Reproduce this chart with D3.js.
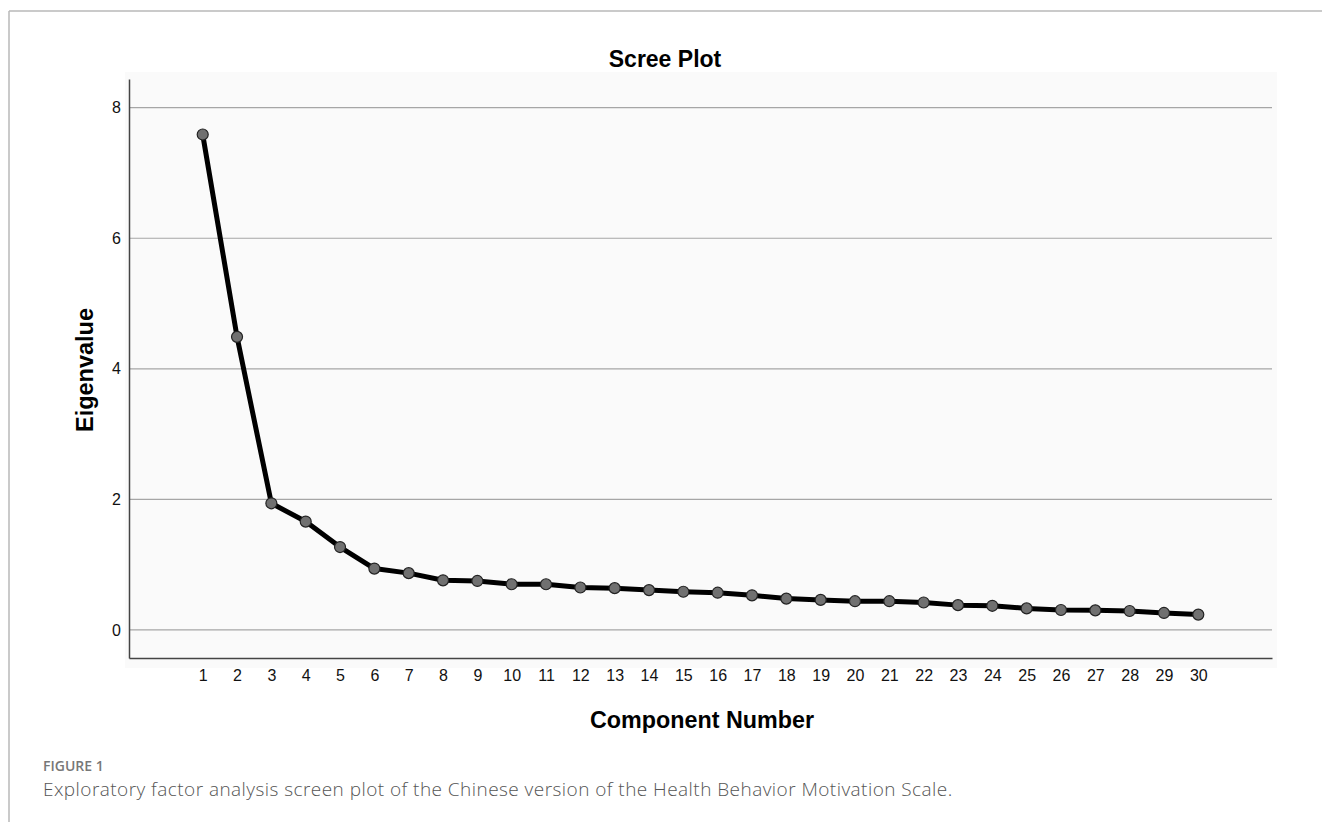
<!DOCTYPE html>
<html><head><meta charset="utf-8">
<script src="https://cdn.jsdelivr.net/npm/d3@7"></script>
<style>body{margin:0;background:#fff;}svg{display:block;}</style>
</head><body>
<svg id="chart" width="1322" height="822"></svg>
<script>
const components = [1,2,3,4,5,6,7,8,9,10,11,12,13,14,15,16,17,18,19,20,21,22,23,24,25,26,27,28,29,30];
const eigenvalues = [7.59,4.49,1.94,1.66,1.27,0.94,0.87,0.76,0.75,0.70,0.70,0.65,0.64,0.61,0.585,0.57,0.53,0.48,0.46,0.44,0.44,0.42,0.38,0.37,0.33,0.305,0.30,0.29,0.26,0.235];
const yTicks = [0,2,4,6,8];
const titleText = "Scree Plot";
const xLabel = "Component Number";
const yLabel = "Eigenvalue";
const figLabel = "FIGURE 1";
const captionText = "Exploratory factor analysis screen plot of the Chinese version of the Health Behavior Motivation Scale.";

const svg = d3.select("#chart");
const data = components.map((c,i)=>({c, v: eigenvalues[i]}));
const ARIAL = "Liberation Sans, Arial, sans-serif";

// frame (top and left lines)
svg.append("line").attr("x1",9).attr("x2",1322).attr("y1",11).attr("y2",11).attr("stroke","#b8b8b8").attr("stroke-width",1.5);
svg.append("line").attr("x1",9).attr("x2",9).attr("y1",11).attr("y2",822).attr("stroke","#b8b8b8").attr("stroke-width",1.5);

const x = d3.scaleLinear().domain([-1.147, 32.147]).range([129, 1272]);
const y = d3.scaleLinear().domain([-0.43, 8.44]).range([658, 79]);

// plot background
svg.append("rect").attr("x",125).attr("y",72).attr("width",1152).attr("height",596).attr("fill","#fafafa");

// gridlines
svg.append("g").selectAll("line").data(yTicks).join("line")
  .attr("x1", x.range()[0]).attr("x2", x.range()[1])
  .attr("y1", d=>y(d)).attr("y2", d=>y(d))
  .attr("stroke","#a6a6a6").attr("stroke-width",1.2);

// y axis
const yAxis = svg.append("g").attr("transform",`translate(${x.range()[0]},0)`)
  .call(d3.axisLeft(y).tickValues(yTicks).tickSize(0).tickPadding(8));
yAxis.attr("font-size",null).attr("font-family",null);
yAxis.select(".domain").attr("stroke","#444").attr("stroke-width",1.5);
yAxis.selectAll("text").style("font-family",ARIAL).style("font-size","16px").attr("fill","#111");

// x axis
const xAxis = svg.append("g").attr("transform",`translate(0,${y.range()[0]})`)
  .call(d3.axisBottom(x).tickValues(components).tickFormat(d3.format("d")).tickSize(0).tickPadding(12));
xAxis.attr("font-size",null).attr("font-family",null);
xAxis.select(".domain").attr("stroke","#444").attr("stroke-width",1.5);
xAxis.selectAll("text").style("font-family",ARIAL).style("font-size","16px").attr("fill","#111");

// line
svg.append("path").datum(data)
  .attr("d", d3.line().x(d=>x(d.c)).y(d=>y(d.v)))
  .attr("fill","none").attr("stroke","#000").attr("stroke-width",5).attr("stroke-linejoin","round");

// points
svg.append("g").selectAll("circle").data(data).join("circle")
  .attr("cx", d=>x(d.c)).attr("cy", d=>y(d.v)).attr("r",5.5)
  .attr("fill","#707070").attr("stroke","#222").attr("stroke-width",1.2);

// title
svg.append("text").attr("x",665).attr("y",67).attr("text-anchor","middle")
  .attr("font-family",ARIAL).attr("font-weight","bold").attr("font-size",23).attr("fill","#000").text(titleText);

// axis titles
svg.append("text").attr("x",702).attr("y",728).attr("text-anchor","middle")
  .attr("font-family",ARIAL).attr("font-weight","bold").attr("font-size",23.3).attr("fill","#000").text(xLabel);
svg.append("text").attr("transform","translate(93,370) rotate(-90)").attr("text-anchor","middle")
  .attr("font-family",ARIAL).attr("font-weight","bold").attr("font-size",23.5).attr("fill","#000").text(yLabel);

// caption
svg.append("text").attr("x",43).attr("y",771)
  .attr("font-family","Open Sans, sans-serif").attr("font-weight",600).attr("font-size",14).attr("fill","#777").text(figLabel);
svg.append("text").attr("x",43).attr("y",796)
  .attr("font-family","Open Sans, sans-serif").attr("font-weight",300).attr("font-size",19).attr("letter-spacing",0.45).attr("fill","#555").text(captionText);
</script>
</body></html>
